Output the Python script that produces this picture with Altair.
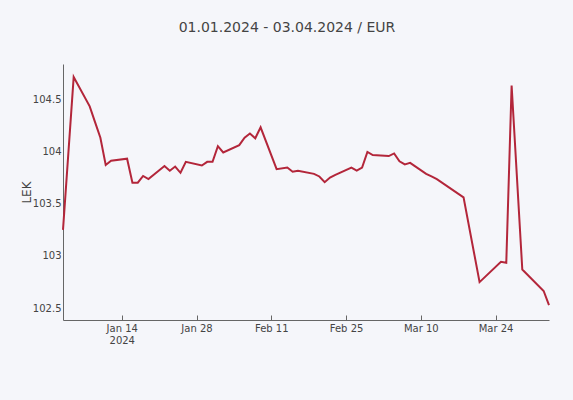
import altair as alt
import pandas as pd

dates = [
    "2024-01-03", "2024-01-05", "2024-01-08", "2024-01-09", "2024-01-10", "2024-01-11", "2024-01-12",
    "2024-01-15", "2024-01-16", "2024-01-17", "2024-01-18", "2024-01-19",
    "2024-01-22", "2024-01-23", "2024-01-24", "2024-01-25", "2024-01-26",
    "2024-01-29", "2024-01-30", "2024-01-31", "2024-02-01", "2024-02-02",
    "2024-02-05", "2024-02-06", "2024-02-07", "2024-02-08", "2024-02-09",
    "2024-02-12", "2024-02-14", "2024-02-15", "2024-02-16",
    "2024-02-19", "2024-02-20", "2024-02-21", "2024-02-22", "2024-02-23",
    "2024-02-26", "2024-02-27", "2024-02-28", "2024-02-29", "2024-03-01",
    "2024-03-04", "2024-03-05", "2024-03-06", "2024-03-07", "2024-03-08",
    "2024-03-11", "2024-03-12", "2024-03-13", "2024-03-18", "2024-03-21",
    "2024-03-25", "2024-03-26", "2024-03-27", "2024-03-29", "2024-04-02", "2024-04-03",
]
rates = [
    103.25, 104.71, 104.43, 104.28, 104.13, 103.87, 103.91,
    103.93, 103.70, 103.70, 103.765, 103.735,
    103.86, 103.815, 103.855, 103.795, 103.90,
    103.865, 103.90, 103.90, 104.05, 103.99,
    104.06, 104.13, 104.17, 104.125, 104.23,
    103.83, 103.845, 103.805, 103.815,
    103.785, 103.76, 103.705, 103.75, 103.775,
    103.845, 103.815, 103.845, 103.995, 103.965,
    103.955, 103.98, 103.905, 103.875, 103.89,
    103.785, 103.76, 103.735, 103.56, 102.75,
    102.945, 102.935, 104.63, 102.87, 102.665, 102.53,
]
x_ticks = [(1, 14), (1, 28), (2, 11), (2, 25), (3, 10), (3, 24)]
y_ticks = [102.5, 103, 103.5, 104, 104.5]
y_range = [102.388, 104.835]
title_text = "01.01.2024 - 03.04.2024 / EUR"
y_title = "LEK"

df = pd.DataFrame({"date": dates, "rate": rates})

FONT = "DejaVu Sans"
TXT = "#444444"
AXC = "#666666"
LINE = "#b3263a"

tick_values = [alt.DateTime(year=2024, month=m, date=d, utc=True) for m, d in x_ticks]
x_scale = alt.Scale(type="utc", nice=False)
y_scale = alt.Scale(domain=y_range, zero=False, nice=False)

y_enc = alt.Y(
    "rate:Q",
    scale=y_scale,
    axis=alt.Axis(
        values=y_ticks, format="~f", ticks=False, grid=False, orient="left",
        domainColor=AXC, labelColor=TXT, labelFont=FONT, labelFontSize=10,
        labelPadding=2, title=y_title, titleFont=FONT, titleFontSize=12,
        titleFontWeight="normal", titleColor=TXT, titlePadding=-1,
    ),
)

line = alt.Chart(df).mark_line(color=LINE, strokeWidth=2).encode(
    x=alt.X(
        "date:T",
        scale=x_scale,
        axis=alt.Axis(
            values=tick_values, format="%b %d", orient="bottom",
            labelExpr="datum.label == 'Jan 14' ? ['Jan 14', '2024'] : datum.label",
            ticks=False, grid=False, domainColor=AXC, labelColor=TXT,
            labelFont=FONT, labelFontSize=10, labelPadding=3, labelLineHeight=12,
            title=None,
        ),
    ),
    y=y_enc,
)

tick_layer = alt.Chart(df).mark_line(opacity=0).encode(
    x=alt.X(
        "date:T",
        scale=x_scale,
        axis=alt.Axis(
            values=tick_values, offset=-5, tickSize=5, tickColor=AXC, orient="bottom",
            labels=False, domain=False, grid=False, title=None,
        ),
    ),
    y=y_enc,
)

chart = (
    alt.layer(tick_layer, line)
    .resolve_axis(x="independent")
    .properties(
        width=486,
        height=256,
        autosize=alt.AutoSizeParams(type="none"),
        padding={"left": 63, "top": 64, "right": 24, "bottom": 80},
        background="#f5f6fa",
        title=alt.TitleParams(
            text=title_text, anchor="middle", frame="group", dx=-19,
            offset=18, baseline="alphabetic", font=FONT, fontSize=14,
            fontWeight="normal", color=TXT,
        ),
    )
    .configure_view(stroke=None)
)

chart.save("out.html", embed_options={"renderer": "svg", "actions": False})
